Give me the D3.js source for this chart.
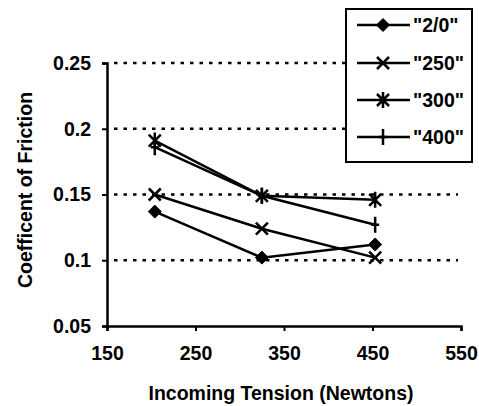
<!DOCTYPE html>
<html>
<head>
<meta charset="utf-8">
<script src="https://cdn.jsdelivr.net/npm/d3@7"></script>
<style>
  body { margin: 0; background: #fff; }
  text { font-family: "Liberation Sans", Arial, sans-serif; font-weight: bold; fill: #000; }
</style>
</head>
<body>
<svg id="chart" width="479" height="406"></svg>
<script>
var tension = [204, 325, 453];
var seriesNames = ['"2/0"', '"250"', '"300"', '"400"'];
var friction20 = [0.137, 0.102, 0.112];
var friction250 = [0.150, 0.124, 0.102];
var friction300 = [0.191, 0.149, 0.146];
var friction400 = [0.186, 0.149, 0.127];
var xTicks = [150, 250, 350, 450, 550];
var yTicks = [0.05, 0.1, 0.15, 0.2, 0.25];
var gridTicks = [0.1, 0.15, 0.2, 0.25];

var seriesValues = [friction20, friction250, friction300, friction400];
var markerTypes = ["diamond", "cross", "star", "plus"];
var fontSize = "19.5px";

var svg = d3.select("#chart");

var x = d3.scaleLinear().domain([150, 550]).range([107, 461]);
var y = d3.scaleLinear().domain([0.05, 0.25]).range([326, 63]);

// dotted gridlines
svg.append("g").selectAll("line")
  .data(gridTicks)
  .join("line")
    .attr("x1", x(150) + 7)
    .attr("x2", x(550) - 3)
    .attr("y1", d => y(d))
    .attr("y2", d => y(d))
    .attr("stroke", "#000")
    .attr("stroke-width", 2.5)
    .attr("stroke-dasharray", "3.5,6");

// axes
var xAxis = svg.append("g")
  .attr("transform", "translate(0," + y(0.05) + ")")
  .call(d3.axisBottom(x).tickValues(xTicks).tickSize(5).tickPadding(15));

var yAxis = svg.append("g")
  .attr("transform", "translate(" + x(150) + ",0)")
  .call(d3.axisLeft(y).tickValues(yTicks).tickSize(5).tickPadding(11)
    .tickFormat(d => String(+d.toFixed(2))));

[xAxis, yAxis].forEach(function(a){
  a.select(".domain").attr("stroke", "#000").attr("stroke-width", 2.5);
  a.selectAll(".tick line").attr("stroke", "#000").attr("stroke-width", 2);
  a.selectAll("text").attr("font-size", fontSize);
  a.attr("font-family", null).attr("font-size", null);
});

svg.append("text")
  .attr("x", 281)
  .attr("y", 400)
  .attr("text-anchor", "middle")
  .attr("font-size", fontSize)
  .text("Incoming Tension (Newtons)");

svg.append("text")
  .attr("transform", "translate(32,190) rotate(-90)")
  .attr("text-anchor", "middle")
  .attr("font-size", fontSize)
  .text("Coefficent of Friction");

function marker(type){
  if(type == "diamond") return "M0,-6.5L6.5,0L0,6.5L-6.5,0Z";
  if(type == "cross") return "M-6,-6L6,6M-6,6L6,-6";
  if(type == "star") return "M-6,-6L6,6M-6,6L6,-6M0,-8L0,8";
  return "M0,-8L0,8M-4,0L4,0";
}

var line = d3.line()
  .x((d, i) => x(tension[i]))
  .y(d => y(d));

seriesValues.forEach(function(vals, s){
  var g = svg.append("g");
  g.append("path")
    .attr("d", line(vals))
    .attr("fill", "none")
    .attr("stroke", "#000")
    .attr("stroke-width", 2.5);
  g.selectAll("path.m")
    .data(vals)
    .join("path")
      .attr("class", "m")
      .attr("transform", (d, i) => "translate(" + x(tension[i]) + "," + y(d) + ")")
      .attr("d", marker(markerTypes[s]))
      .attr("fill", "#000")
      .attr("stroke", "#000")
      .attr("stroke-width", markerTypes[s] == "diamond" ? 1 : 2.5);
});

// legend
var legend = svg.append("g");
legend.append("rect")
  .attr("x", 346).attr("y", 9)
  .attr("width", 126).attr("height", 153)
  .attr("fill", "#fff")
  .attr("stroke", "#000")
  .attr("stroke-width", 2);

var legendY = [25, 63, 100, 137];
seriesNames.forEach(function(name, s){
  var row = legend.append("g").attr("transform", "translate(0," + legendY[s] + ")");
  row.append("line")
    .attr("x1", 357).attr("x2", 410)
    .attr("stroke", "#000").attr("stroke-width", 2.5);
  row.append("path")
    .attr("transform", "translate(383,0)")
    .attr("d", marker(markerTypes[s]))
    .attr("fill", "#000")
    .attr("stroke", "#000")
    .attr("stroke-width", markerTypes[s] == "diamond" ? 1 : 2.5);
  row.append("text")
    .attr("x", 413)
    .attr("y", 7)
    .attr("font-size", fontSize)
    .text(name);
});
</script>
</body>
</html>
